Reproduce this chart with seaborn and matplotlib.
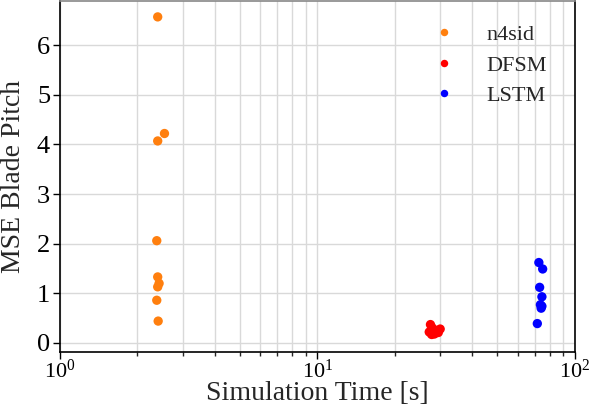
import matplotlib
matplotlib.use("Agg")
import matplotlib.pyplot as plt
import numpy as np
import pandas as pd
import seaborn as sns

# %% DATA
n4sid_time = [2.40, 2.55, 2.40, 2.38, 2.40, 2.43, 2.40, 2.38, 2.41]
n4sid_mse = [6.57, 4.22, 4.07, 2.06, 1.33, 1.20, 1.13, 0.86, 0.44]

dfsm_time = [27.5, 28.0, 27.2, 28.5, 29.2, 30.0, 29.5, 27.8, 28.3]
dfsm_mse = [0.37, 0.30, 0.22, 0.18, 0.25, 0.28, 0.21, 0.17, 0.20]

lstm_time = [72.5, 75.0, 73.0, 74.5, 73.5, 74.0, 74.5, 71.5]
lstm_mse = [1.62, 1.49, 1.12, 0.93, 0.77, 0.70, 0.74, 0.39]

methods = ["n4sid", "DFSM", "LSTM"]
colors = {"n4sid": "#ff7f0e", "DFSM": "red", "LSTM": "blue"}

df = pd.concat(
    [
        pd.DataFrame({"time": n4sid_time, "mse": n4sid_mse, "method": "n4sid"}),
        pd.DataFrame({"time": dfsm_time, "mse": dfsm_mse, "method": "DFSM"}),
        pd.DataFrame({"time": lstm_time, "mse": lstm_mse, "method": "LSTM"}),
    ],
    ignore_index=True,
)

# %% PLOT
sns.set_style("whitegrid")
plt.rcParams["font.family"] = ["Liberation Serif", "DejaVu Serif"]
plt.rcParams["mathtext.fontset"] = "custom"
plt.rcParams["mathtext.rm"] = "Liberation Serif"
plt.rcParams["mathtext.it"] = "Liberation Serif:italic"

fig = plt.figure(figsize=(5.92, 4.05), dpi=100)
ax = fig.add_axes([0.101, 0.130, 0.870, 0.8675])

sns.scatterplot(
    data=df,
    x="time",
    y="mse",
    hue="method",
    hue_order=methods,
    palette=colors,
    s=45,
    edgecolor="none",
    ax=ax,
)
ax.set_xscale("log")
ax.set_xlim(1, 100)
ax.set_ylim(-0.19, 6.89)
ax.set_yticks(range(0, 7))

ax.grid(True, which="major", color="#d9d9d9", linewidth=1)
ax.grid(True, which="minor", axis="x", color="#d9d9d9", linewidth=1)
for side in ["left", "bottom", "right", "top"]:
    ax.spines[side].set_color("black")
    ax.spines[side].set_linewidth(1.2)
ax.spines["top"].set_color("#888888")

ax.tick_params(axis="y", which="major", direction="out", length=5, width=1,
               labelsize=19, left=True, colors="black", pad=2)
ax.tick_params(axis="x", which="major", direction="out", length=5, width=1,
               labelsize=16, bottom=True, colors="black", pad=0)
ax.tick_params(axis="x", which="minor", direction="out", length=3, width=1, bottom=True)

ax.set_xlabel("Simulation Time [s]", fontsize=20)
ax.xaxis.set_label_coords(0.5, -0.082)
ax.set_ylabel("MSE Blade Pitch", fontsize=20, labelpad=8)

ax.legend(frameon=False, fontsize=16, loc="upper right", markerscale=0.8,
          handletextpad=0.9, labelspacing=0.45, bbox_to_anchor=(0.985, 0.99))

fig.savefig("out.png", dpi=100)
